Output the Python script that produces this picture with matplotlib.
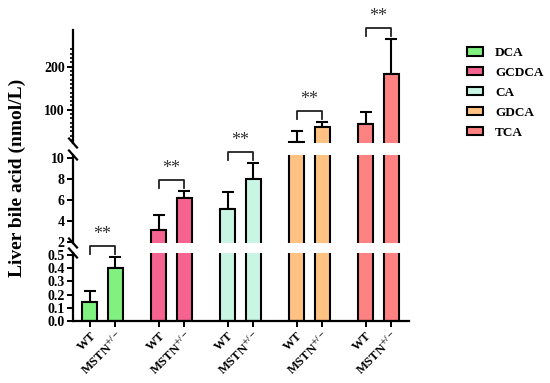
import numpy as np
import matplotlib
matplotlib.use('Agg')
import matplotlib.pyplot as plt
from matplotlib.lines import Line2D
from matplotlib.patches import Patch

plt.rcParams['font.family'] = ['Liberation Serif', 'DejaVu Serif']
plt.rcParams['mathtext.fontset'] = 'stix'

# data
acids = ['DCA', 'GCDCA', 'CA', 'GDCA', 'TCA']
colors = ['#80F080', '#F76391', '#C9F5E4', '#FFC282', '#FF8282']
wt_mean = [0.145, 3.1, 5.1, 25.5, 67]
wt_err = [0.08, 1.5, 1.7, 26, 28]
ko_mean = [0.40, 6.2, 8.0, 59, 183]
ko_err = [0.09, 0.65, 1.5, 13, 80]
group_labels = ['WT', r'MSTN$^{+/-}$']

fig = plt.figure(figsize=(5.5, 3.83), dpi=100)
W, H = 550, 383

def frac(x0, x1, ytop, ybot):
    return [x0 / W, 1 - ybot / H, (x1 - x0) / W, (ybot - ytop) / H]

ax_top = fig.add_axes(frac(73, 409, 30, 143))
ax_mid = fig.add_axes(frac(73, 409, 155, 243))
ax_bot = fig.add_axes(frac(73, 409, 253, 320.7))
axes = [ax_top, ax_mid, ax_bot]
ylims = [(23, 285), (1.88, 10.3), (0, 0.517)]

gap = 2.7
width = 0.58
x_wt = np.arange(len(acids)) * gap
x_ko = x_wt + 1

for ax, yl in zip(axes, ylims):
    for i in range(len(acids)):
        for x, m, e in [(x_wt[i], wt_mean[i], wt_err[i]), (x_ko[i], ko_mean[i], ko_err[i])]:
            ax.bar(x, m, width=width, color=colors[i], edgecolor='black', linewidth=1.5, zorder=2)
            ax.errorbar(x, m, yerr=[[0], [e]], fmt='none', ecolor='black', elinewidth=1.5,
                        capsize=4.5, capthick=1.5, zorder=1)
    ax.set_ylim(*yl)
    ax.set_xlim(-0.66, x_ko[-1] + 0.7)
    for s in ['top', 'right']:
        ax.spines[s].set_visible(False)
    ax.spines['left'].set_linewidth(1.6)
    ax.tick_params(axis='y', width=1.4, length=4, labelsize=10, pad=2)
    if ax is not ax_bot:
        ax.spines['bottom'].set_visible(False)
        ax.set_xticks([])

ax_top.set_yticks([100, 200])
ax_top.set_yticks([v for v in range(30, 250, 10) if v % 100], minor=True)
ax_top.tick_params(axis='y', which='minor', length=2.5, width=1.2)
ax_mid.set_yticks([2, 4, 6, 8, 10])
ax_bot.set_yticks([0, 0.1, 0.2, 0.3, 0.4, 0.5])
ax_bot.set_yticklabels(['0.0', '0.1', '0.2', '0.3', '0.4', '0.5'])
for ax in axes:
    for t in ax.get_yticklabels():
        t.set_fontweight('bold')

ax_bot.spines['bottom'].set_linewidth(1.6)
xt = np.ravel(np.column_stack([x_wt, x_ko]))
ax_bot.set_xticks(xt)
ax_bot.set_xticklabels(group_labels * len(acids), rotation=45, ha='right',
                       rotation_mode='anchor', fontsize=9, fontweight='bold')
ax_bot.tick_params(axis='x', width=1.4, length=4.5, pad=2)

inv = fig.transFigure.inverted()

# break marks, "\" shaped, drawn in pixels at the spine ends
for ax, ends in [(ax_top, [0]), (ax_mid, [0, 1]), (ax_bot, [1])]:
    for yy in ends:
        cx, cy = ax.transAxes.transform((0, yy))
        pts = inv.transform([(cx - 4, cy + 4.5), (cx + 4, cy - 4.5)])
        fig.add_artist(Line2D(pts[:, 0], pts[:, 1], color='black', lw=1.6))

# significance brackets
def top_px(x, v):
    for ax, yl in zip(axes, ylims):
        if yl[0] <= v <= yl[1]:
            return ax.transData.transform((x, v))
    return ax_top.transData.transform((x, v))

for i in range(len(acids)):
    p1 = top_px(x_wt[i], wt_mean[i] + wt_err[i])
    p2 = top_px(x_ko[i], ko_mean[i] + ko_err[i])
    yb = max(p1[1], p2[1]) + 11
    pts = inv.transform([(p1[0], yb - 8), (p1[0], yb), (p2[0], yb), (p2[0], yb - 8)])
    fig.add_artist(Line2D(pts[:, 0], pts[:, 1], color='#222222', lw=1.3))
    sx, sy = inv.transform(((p1[0] + p2[0]) / 2, yb + 7))
    fig.text(sx, sy, '**', ha='center', va='baseline', fontsize=13, color='#333333')

fig.text(17 / W, 1 - 177.5 / H, 'Liver bile acid (nmol/L)', rotation=90, ha='center',
         va='center', fontsize=14, fontweight='bold')

handles = [Patch(facecolor=c, edgecolor='black', linewidth=1.5) for c in colors]
fig.legend(handles, acids, loc='upper left', bbox_to_anchor=(466.7 / W, 1 - 47 / H),
           frameon=False, borderpad=0, borderaxespad=0, handlelength=1.25, handleheight=0.6,
           handletextpad=0.9, labelspacing=0.6, prop={'weight': 'bold', 'size': 9.5})

fig.savefig('out.png', dpi=100)
